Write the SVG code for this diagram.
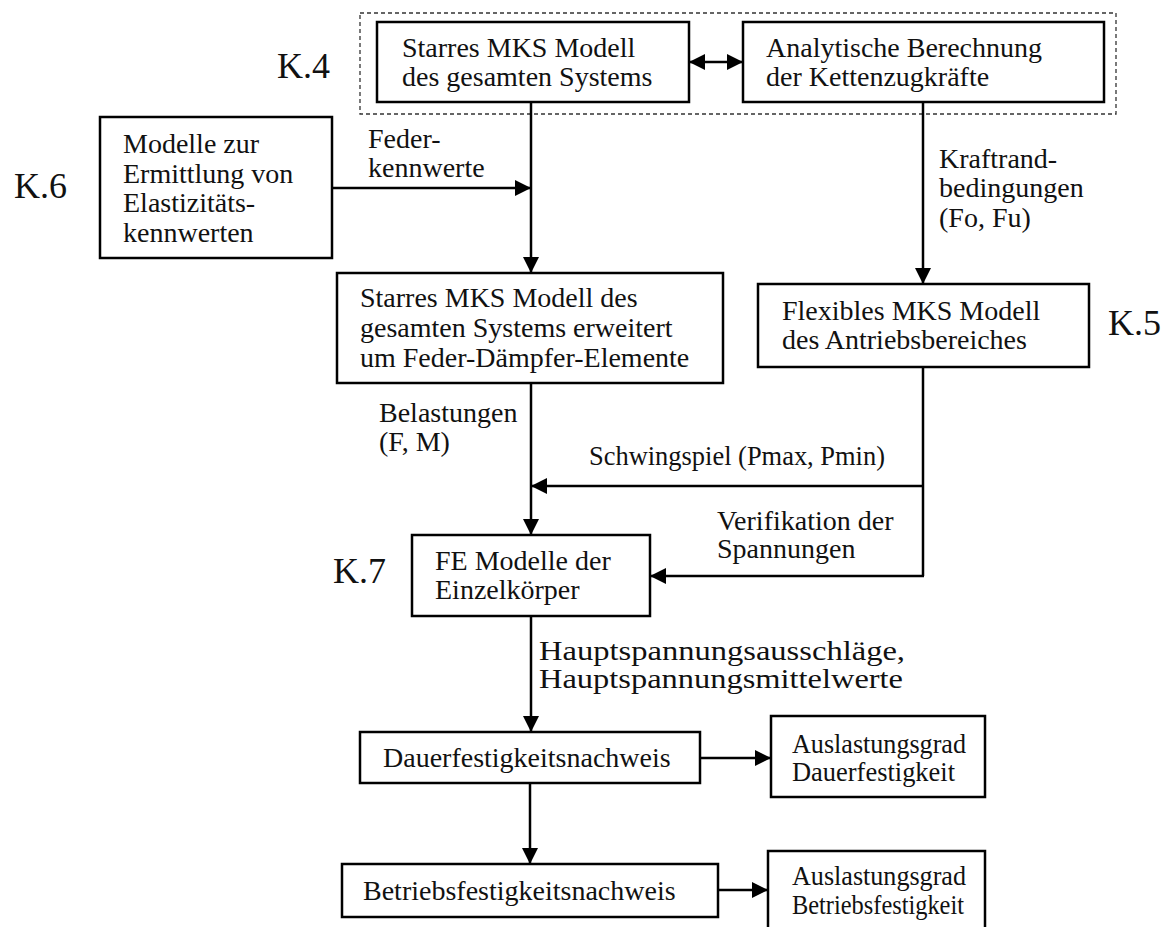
<svg xmlns="http://www.w3.org/2000/svg" width="1172" height="927" viewBox="0 0 1172 927">
  <defs>
    <marker id="arrow" viewBox="0 0 10 10" refX="10" refY="5" markerWidth="6.4" markerHeight="6.4" markerUnits="strokeWidth" orient="auto">
      <path d="M0,0 L10,5 L0,10 Z" fill="#000"/>
    </marker>
    <marker id="arrow-start" viewBox="0 0 10 10" refX="0" refY="5" markerWidth="6.4" markerHeight="6.4" markerUnits="strokeWidth" orient="auto">
      <path d="M10,0 L0,5 L10,10 Z" fill="#000"/>
    </marker>
    <style>
      .box { fill: #fff; stroke: #000; stroke-width: 2.5; }
      .group { fill: none; stroke: #333; stroke-width: 1.3; stroke-dasharray: 4 3; }
      .txt { font-family: "Liberation Serif", "Times New Roman", serif; font-size: 28px; fill: #111; }
      .chap { font-family: "Liberation Serif", "Times New Roman", serif; font-size: 36px; fill: #111; }
      .wire { fill: none; stroke: #000; stroke-width: 2.5; }
      .arr { marker-end: url(#arrow); }
    </style>
  </defs>
  <rect width="1172" height="927" fill="#fff"/>

  <!-- chapter labels -->
  <g id="chapters">
    <text class="chap" x="277" y="78">K.4</text>
    <text class="chap" x="14" y="198">K.6</text>
    <text class="chap" x="1108" y="335">K.5</text>
    <text class="chap" x="333" y="583">K.7</text>
  </g>

  <!-- dashed frame around the rigid model and the chain force calculation -->
  <rect id="frame-k4" class="group" x="360" y="13" width="756" height="101"/>

  <!-- connectors -->
  <g id="connectors">
    <line class="wire" x1="689" y1="62" x2="743" y2="62" marker-start="url(#arrow-start)" marker-end="url(#arrow)"/>
    <line class="wire arr" x1="531" y1="102" x2="531" y2="273"/>
    <line class="wire arr" x1="332" y1="188" x2="531" y2="188"/>
    <line class="wire arr" x1="923" y1="102" x2="923" y2="284"/>
    <line class="wire arr" x1="531" y1="383" x2="531" y2="535"/>
    <polyline class="wire" points="923,367 923,576"/>
    <line class="wire arr" x1="923" y1="486" x2="531" y2="486"/>
    <line class="wire arr" x1="924" y1="576" x2="650" y2="576"/>
    <line class="wire arr" x1="531" y1="616" x2="531" y2="732"/>
    <line class="wire arr" x1="700" y1="758" x2="771" y2="758"/>
    <line class="wire arr" x1="530" y1="783" x2="530" y2="864"/>
    <line class="wire arr" x1="718" y1="890" x2="768" y2="890"/>
  </g>

  <!-- connector labels -->
  <g id="labels">
    <text class="txt" x="368" y="148">Feder-</text>
    <text class="txt" x="368" y="177">kennwerte</text>
    <text class="txt" x="939" y="168">Kraftrand-</text>
    <text class="txt" x="939" y="197">bedingungen</text>
    <text class="txt" x="939" y="227">(Fo, Fu)</text>
    <text class="txt" x="379" y="422">Belastungen</text>
    <text class="txt" x="379" y="451">(F, M)</text>
    <text class="txt" x="589" y="465" textLength="296" lengthAdjust="spacingAndGlyphs">Schwingspiel (Pmax, Pmin)</text>
    <text class="txt" x="717" y="530">Verifikation der</text>
    <text class="txt" x="717" y="558">Spannungen</text>
    <text class="txt" x="539" y="660" textLength="366" lengthAdjust="spacingAndGlyphs">Hauptspannungsausschläge,</text>
    <text class="txt" x="539" y="688" textLength="364" lengthAdjust="spacingAndGlyphs">Hauptspannungsmittelwerte</text>
  </g>

  <g id="rigid-mbs">
    <rect class="box" x="377" y="22" width="312" height="80"/>
    <text class="txt" x="402" y="57">Starres MKS Modell</text>
    <text class="txt" x="402" y="86">des gesamten Systems</text>
  </g>

  <g id="chain-forces">
    <rect class="box" x="743" y="22" width="361" height="80"/>
    <text class="txt" x="766" y="57">Analytische Berechnung</text>
    <text class="txt" x="766" y="86">der Kettenzugkräfte</text>
  </g>

  <g id="elasticity-models">
    <rect class="box" x="100" y="117" width="232" height="141"/>
    <text class="txt" x="123" y="153">Modelle zur</text>
    <text class="txt" x="123" y="183">Ermittlung von</text>
    <text class="txt" x="123" y="212">Elastizitäts-</text>
    <text class="txt" x="123" y="242">kennwerten</text>
  </g>

  <g id="rigid-mbs-extended">
    <rect class="box" x="337" y="273" width="386" height="110"/>
    <text class="txt" x="360" y="307">Starres MKS Modell des</text>
    <text class="txt" x="360" y="337">gesamten Systems erweitert</text>
    <text class="txt" x="360" y="367">um Feder-Dämpfer-Elemente</text>
  </g>

  <g id="flexible-mbs">
    <rect class="box" x="758" y="284" width="331" height="83"/>
    <text class="txt" x="782" y="320">Flexibles MKS Modell</text>
    <text class="txt" x="782" y="349">des Antriebsbereiches</text>
  </g>

  <g id="fe-models">
    <rect class="box" x="412" y="535" width="238" height="81"/>
    <text class="txt" x="435" y="570">FE Modelle der</text>
    <text class="txt" x="435" y="599">Einzelkörper</text>
  </g>

  <g id="endurance-proof">
    <rect class="box" x="360" y="732" width="340" height="51"/>
    <text class="txt" x="383" y="767">Dauerfestigkeitsnachweis</text>
  </g>

  <g id="endurance-utilisation">
    <rect class="box" x="771" y="716" width="214" height="81"/>
    <text class="txt" x="792" y="753" textLength="174" lengthAdjust="spacingAndGlyphs">Auslastungsgrad</text>
    <text class="txt" x="792" y="781" textLength="163" lengthAdjust="spacingAndGlyphs">Dauerfestigkeit</text>
  </g>

  <g id="operational-proof">
    <rect class="box" x="342" y="864" width="376" height="53"/>
    <text class="txt" x="363" y="900">Betriebsfestigkeitsnachweis</text>
  </g>

  <g id="operational-utilisation">
    <rect class="box" x="768" y="851" width="217" height="90"/>
    <text class="txt" x="792" y="885" textLength="174" lengthAdjust="spacingAndGlyphs">Auslastungsgrad</text>
    <text class="txt" x="792" y="914" textLength="172" lengthAdjust="spacingAndGlyphs">Betriebsfestigkeit</text>
  </g>
</svg>
